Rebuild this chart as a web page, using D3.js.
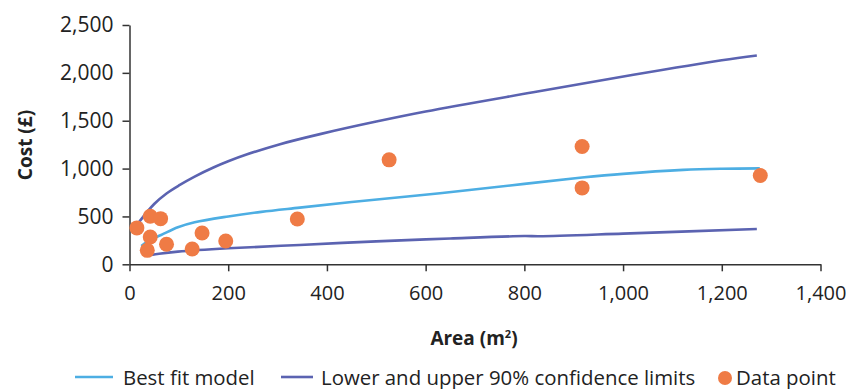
<!DOCTYPE html>
<html>
<head>
<meta charset="utf-8">
<script src="https://cdn.jsdelivr.net/npm/d3@7"></script>
<style>
  body { margin: 0; background: #fff; }
  svg { display: block; font-family: "Open Sans", sans-serif; }
</style>
</head>
<body>
<svg id="chart" width="846" height="389"></svg>
<script>
// Data point observations
const areaData = [15, 36, 42, 42, 63, 75, 127, 147, 195, 340, 526, 917, 917, 1278];
const costData = [380, 146, 502, 285, 477, 209, 160, 327, 244, 474, 1091, 1230, 798, 927];

// Best fit model curve
const bestFitX = [24, 40, 64, 98, 132, 200, 267, 345, 450, 629, 800, 917, 1000, 1122, 1200, 1277];
const bestFitY = [191, 250, 306, 387, 439, 500, 548, 592, 650, 743, 840, 906, 945, 986, 998, 1002];

// Upper 90% confidence limit
const upperX = [20, 50, 75, 102, 132, 170, 200, 237, 305, 386, 500, 600, 818, 1021, 1200, 1271];
const upperY = [446, 630, 740, 829, 916, 1011, 1076, 1146, 1255, 1360, 1491, 1596, 1797, 1980, 2132, 2182];

// Lower 90% confidence limit
const lowerX = [44, 60, 98, 200, 345, 500, 650, 800, 830, 1000, 1271];
const lowerY = [97, 110, 132, 167, 202, 240, 270, 295, 293, 320, 369];

const xTicks = [0, 200, 400, 600, 800, 1000, 1200, 1400];
const yTicks = [0, 500, 1000, 1500, 2000, 2500];

const legendLabels = ["Best fit model", "Lower and upper 90% confidence limits", "Data point"];
const xTitle = "Area (m";
const yTitle = "Cost (£)";

const colBest = "#4daee3";
const colLimit = "#5b63b1";
const colDot = "#ef7b45";
const colAxis = "#333333";

const svg = d3.select("#chart");
const fmt = d3.format(",");

const x = d3.scaleLinear().domain([0, 1400]).range([129.5, 820.5]);
const y = d3.scaleLinear().domain([0, 2500]).range([264.3, 25]);

// Axes
const xAxis = svg.append("g").attr("transform", `translate(0,${y(0)})`)
  .call(d3.axisBottom(x).tickValues(xTicks).tickFormat(fmt).tickSize(7).tickSizeOuter(0).tickPadding(10));
const yAxis = svg.append("g").attr("transform", `translate(${x(0)},0)`)
  .call(d3.axisLeft(y).tickValues(yTicks).tickFormat(fmt).tickSize(7).tickSizeOuter(0).tickPadding(9));

[xAxis, yAxis].forEach(g => {
  g.select(".domain").attr("stroke", colAxis).attr("stroke-width", 1.5);
  g.selectAll(".tick line").attr("stroke", colAxis).attr("stroke-width", 1.5);
  g.selectAll(".tick text").attr("fill", "#222")
    .style("font-family", "'Open Sans', sans-serif");
});
yAxis.selectAll(".tick text").style("font-size", "21px");
xAxis.selectAll(".tick text").style("font-size", "20px").attr("dy", "0.95em");

// Lines
const line = d3.line().x(d => x(d[0])).y(d => y(d[1])).curve(d3.curveCatmullRom.alpha(0.5));
const series = [
  { xs: lowerX, ys: lowerY, c: colLimit },
  { xs: upperX, ys: upperY, c: colLimit },
  { xs: bestFitX, ys: bestFitY, c: colBest }
];
series.forEach(s => {
  svg.append("path")
    .datum(s.xs.map((v, i) => [v, s.ys[i]]))
    .attr("d", line)
    .attr("fill", "none")
    .attr("stroke", s.c)
    .attr("stroke-width", 2.6);
});

// Dots
svg.append("g").selectAll("circle")
  .data(areaData.map((v, i) => [v, costData[i]]))
  .join("circle")
  .attr("cx", d => x(d[0]))
  .attr("cy", d => y(d[1]))
  .attr("r", 7.5)
  .attr("fill", colDot);

// Axis titles
const xt = svg.append("text")
  .attr("x", 474).attr("y", 345)
  .attr("text-anchor", "middle")
  .style("font-size", "19px").style("font-weight", "bold").attr("fill", "#222");
xt.append("tspan").text(xTitle);
xt.append("tspan").text("2").style("font-size", "11px").attr("dy", "-7");
xt.append("tspan").text(")").attr("dy", "7");

svg.append("text")
  .attr("transform", "translate(32,145) rotate(-90)")
  .attr("text-anchor", "middle")
  .style("font-size", "19px").style("font-weight", "bold").attr("fill", "#222")
  .text(yTitle);

// Legend
const legY = 377;
const lg = svg.append("g").style("font-size", "20.4px").attr("fill", "#222");
lg.append("line").attr("x1", 75).attr("x2", 113).attr("y1", legY).attr("y2", legY)
  .attr("stroke", colBest).attr("stroke-width", 2.6);
lg.append("text").attr("x", 123).attr("y", legY + 7.5).text(legendLabels[0]);
lg.append("line").attr("x1", 281).attr("x2", 313).attr("y1", legY).attr("y2", legY)
  .attr("stroke", colLimit).attr("stroke-width", 2.6);
lg.append("text").attr("x", 321).attr("y", legY + 7.5).text(legendLabels[1]);
lg.append("circle").attr("cx", 725).attr("cy", legY + 1).attr("r", 7).attr("fill", colDot);
lg.append("text").attr("x", 736).attr("y", legY + 7.5).text(legendLabels[2]);
</script>
</body>
</html>
